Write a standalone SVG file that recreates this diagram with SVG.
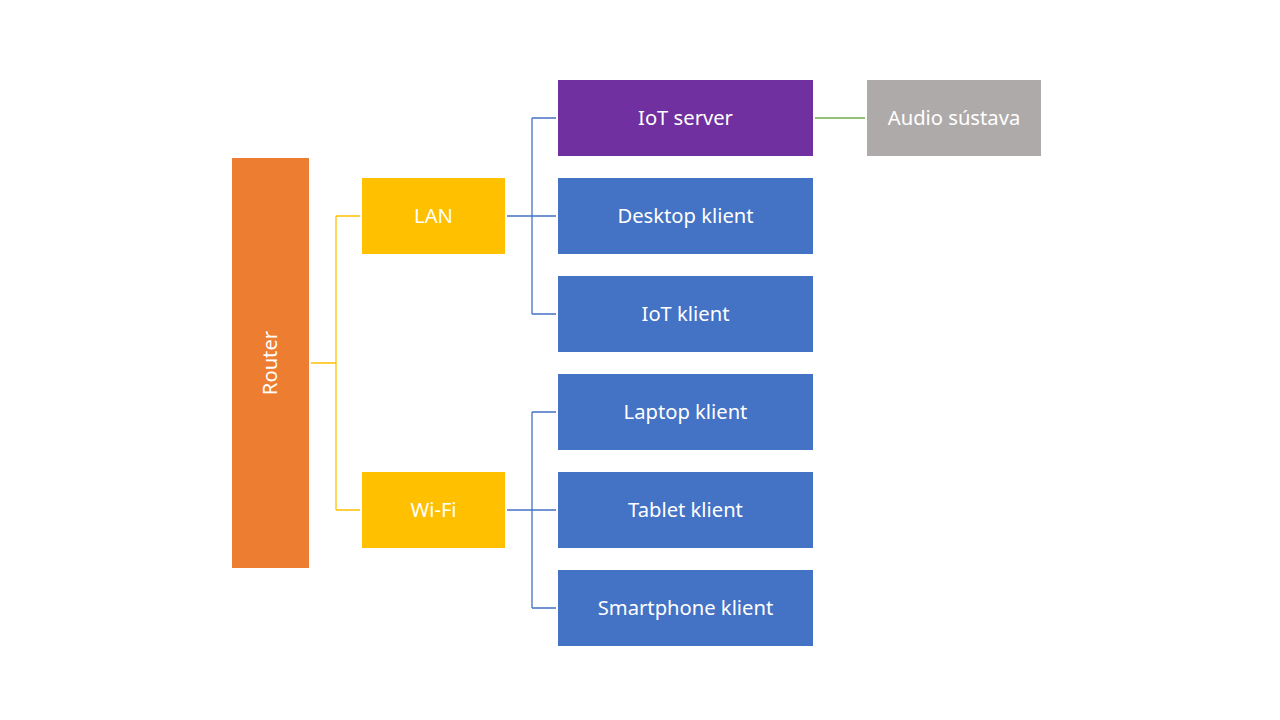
<svg xmlns="http://www.w3.org/2000/svg" width="1280" height="720" viewBox="0 0 1280 720">
<style>
.t{font-family:"Noto Sans","Open Sans","DejaVu Sans",sans-serif;font-size:20.2px;fill:#fff;text-anchor:middle;dominant-baseline:central}
.y{stroke:#FFC000;stroke-width:1.3;fill:none}
.b{stroke:#4472C4;stroke-width:1.3;fill:none}
.g{stroke:#70AD47;stroke-width:1.3;fill:none}
.blue{fill:#4472C4}
.lvl1{fill:#FFC000}
</style>
<rect width="1280" height="720" fill="#fff"/>
<g id="connectors">
<path class="y" d="M311 363H336M336 216V510M336 216H360M336 510H360"/>
<path class="b" d="M507 216H556M532 118V314M532 118H556M532 314H556"/>
<path class="b" d="M507 510H556M532 412V608M532 412H556M532 608H556"/>
<path class="g" d="M815 118H865"/>
</g>
<g id="router"><rect x="232" y="158" width="77" height="410" fill="#ED7D31"/><text class="t" transform="translate(269 363) rotate(-90)">Router</text></g>
<g id="lan"><rect class="lvl1" x="362" y="178" width="143" height="76"/><text class="t" x="433.5" y="214.5">LAN</text></g>
<g id="wifi"><rect class="lvl1" x="362" y="472" width="143" height="76"/><text class="t" x="433.5" y="508.5">Wi-Fi</text></g>
<g id="iot-server"><rect x="558" y="80" width="255" height="76" fill="#7030A0"/><text class="t" x="685.5" y="116.5">IoT server</text></g>
<g id="desktop"><rect class="blue" x="558" y="178" width="255" height="76"/><text class="t" x="685.5" y="214.5">Desktop klient</text></g>
<g id="iot-klient"><rect class="blue" x="558" y="276" width="255" height="76"/><text class="t" x="685.5" y="312.5">IoT klient</text></g>
<g id="laptop"><rect class="blue" x="558" y="374" width="255" height="76"/><text class="t" x="685.5" y="410.5">Laptop klient</text></g>
<g id="tablet"><rect class="blue" x="558" y="472" width="255" height="76"/><text class="t" x="685.5" y="508.5">Tablet klient</text></g>
<g id="smartphone"><rect class="blue" x="558" y="570" width="255" height="76"/><text class="t" x="685.5" y="606.5">Smartphone klient</text></g>
<g id="audio"><rect x="867" y="80" width="174" height="76" fill="#AEAAAA"/><text class="t" x="954" y="116.5">Audio sústava</text></g>
</svg>
